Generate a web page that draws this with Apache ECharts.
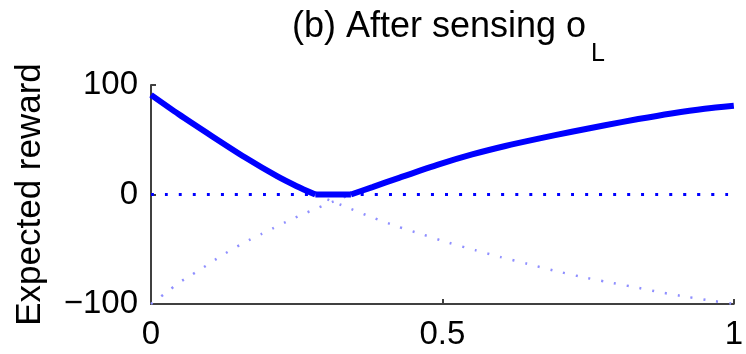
<!DOCTYPE html>
<html>
<head>
<meta charset="utf-8">
<script src="https://cdn.jsdelivr.net/npm/echarts@6/dist/echarts.min.js"></script>
<style>
  html, body { margin: 0; padding: 0; background: #fff; }
  #chart { width: 746px; height: 354px; }
</style>
</head>
<body>
<div id="chart"></div>
<script>
// belief (x) and expected reward (y)
// best value: falling part, flat part at zero, rising part
var fallX = [0, 0.047, 0.104, 0.161, 0.217, 0.25, 0.282];
var fallY = [91, 73.5, 53.5, 34, 16.5, 7.6, 0];
var flatX = [0.282, 0.343];
var flatY = [0, 0];
var riseX = [0.343, 0.38, 0.4256, 0.494, 0.551, 0.608, 0.665, 0.722, 0.779, 0.836, 0.893, 0.95, 1];
var riseY = [0, 6.8, 15.2, 27.5, 36.6, 44.3, 51, 57.3, 63.3, 68.9, 74, 78.3, 81];

// dotted continuation of the left curve (below zero)
var leftX = [0.282, 0.333, 0.377, 0.421, 0.466, 0.511, 0.556, 0.6, 0.646, 0.691, 0.736, 0.782, 0.827, 0.873, 0.92, 0.967, 1];
var leftY = [0, -11, -20.4, -28.9, -36.5, -44.1, -50.8, -57.2, -63.3, -69.4, -74.9, -79.8, -84.3, -89.2, -93.5, -97.4, -100];

// dotted part of the right curve (below zero)
var rightX = [0, 0.01, 0.03, 0.048, 0.068, 0.088, 0.108, 0.127, 0.147, 0.168, 0.189, 0.21, 0.231, 0.252, 0.273, 0.295, 0.315, 0.343];
var rightY = [-100, -96, -88, -80.5, -74, -67.3, -60.3, -53.9, -47.8, -41.7, -36.2, -30.7, -25.3, -20, -15.2, -10.3, -6, 0];

var zeroX = [0, 1];
var zeroY = [0, 0];

var xTicks = [0, 0.5, 1];
var yTicks = [-100, 0, 100];

function pairs(xs, ys) {
    var out = [];
    for (var i = 0; i < xs.length; i++) out.push([xs[i], ys[i]]);
    return out;
}

var font = 'Liberation Sans, Arial, Helvetica, sans-serif';
var axisCol = '#404040';
var thick = { color: '#0000ff', width: 6 };
var light = { color: '#8f8fff', width: 2.5, type: [2, 11] };

function curve(xs, ys, style, z) {
    return {
        type: 'line',
        data: pairs(xs, ys),
        showSymbol: false,
        smooth: 0.25,
        lineStyle: style,
        z: z
    };
}

var myChart = echarts.init(document.getElementById('chart'));

var option = {
    animation: false,
    title: [
        {
            text: '(b) After sensing o',
            left: 287,
            top: 4,
            textStyle: { fontFamily: font, fontSize: 36, fontWeight: 'normal', color: '#000' }
        },
        {
            text: 'L',
            left: 586,
            top: 37,
            textStyle: { fontFamily: font, fontSize: 25, fontWeight: 'normal', color: '#000' }
        }
    ],
    grid: { left: 151, right: 10, top: 85, bottom: 50 },
    xAxis: {
        type: 'value',
        min: xTicks[0],
        max: xTicks[xTicks.length - 1],
        interval: 0.5,
        axisLine: { onZero: false, lineStyle: { color: axisCol, width: 2 } },
        axisTick: { inside: true, length: 5, lineStyle: { color: axisCol, width: 2 } },
        axisLabel: {
            margin: 14,
            fontFamily: font, fontSize: 33, color: '#000',
            formatter: function (v) { return String(v); }
        },
        splitLine: { show: false }
    },
    yAxis: {
        type: 'value',
        min: yTicks[0],
        max: yTicks[yTicks.length - 1],
        interval: 100,
        name: 'Expected reward',
        nameLocation: 'middle',
        nameGap: 103,
        nameTextStyle: { fontFamily: font, fontSize: 35, color: '#000' },
        axisLine: { onZero: false, lineStyle: { color: axisCol, width: 2 } },
        axisTick: { inside: true, length: 5, lineStyle: { color: axisCol, width: 2 } },
        axisLabel: {
            margin: 13,
            fontFamily: font, fontSize: 33, color: '#000',
            formatter: function (v) { return String(v).replace('-', '\u2212'); }
        },
        splitLine: { show: false }
    },
    series: [
        curve(zeroX, zeroY, { color: '#0000ff', width: 3, type: [3, 11] }, 2),
        curve(leftX, leftY, light, 2),
        curve(rightX, rightY, light, 2),
        curve(fallX, fallY, thick, 3),
        curve(flatX, flatY, thick, 3),
        curve(riseX, riseY, thick, 3)
    ]
};
myChart.setOption(option);
</script>
</body>
</html>
